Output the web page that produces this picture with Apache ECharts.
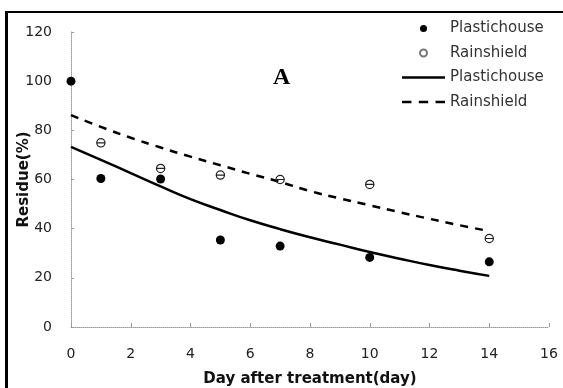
<!DOCTYPE html>
<html>
<head>
<meta charset="utf-8">
<script src="https://cdn.jsdelivr.net/npm/echarts@6/dist/echarts.min.js"></script>
<style>
html,body{margin:0;padding:0;background:#fff;}
#chart{width:563px;height:388px;}
</style>
</head>
<body>
<div id="chart"></div>
<script>
// Observed residues
const obsDays = [0, 1, 3, 5, 7, 10, 14];
const plasticObs = [100, 60.4, 60.2, 35.4, 32.9, 28.3, 26.5];
const rainDays = [1, 3, 5, 7, 10, 14];
const rainObs = [74.9, 64.5, 61.8, 60.0, 58.0, 36.0];
// Fitted curves
const fitDays = [0, 1, 2, 3, 4, 5, 6, 7, 8, 9, 10, 11, 12, 13, 14];
const plasticFit = [73.3, 68.0, 62.6, 57.2, 52.0, 47.6, 43.4, 39.8, 36.5, 33.5, 30.5, 27.8, 25.2, 22.9, 20.8];
const rainFit = [86.2, 81.4, 77.0, 73.0, 69.3, 65.8, 62.3, 59.0, 55.3, 52.3, 49.5, 46.7, 44.0, 41.4, 39.0];
const xTicks = [0, 2, 4, 6, 8, 10, 12, 14, 16];
const yTicks = [0, 20, 40, 60, 80, 100, 120];

const pair = (xs, ys) => xs.map((x, i) => [x, ys[i]]);
const openSym = 'path://M10,0A10,10,0,1,1,10,20A10,10,0,1,1,10,0ZM10,2.6A7.4,7.4,0,1,0,10,17.4A7.4,7.4,0,1,0,10,2.6ZM2,8.7L18,8.7L18,11.3L2,11.3Z';
const solidIcon = 'path://M0,0L43,0L43,2.5L0,2.5Z';
const dashIcon = 'path://M0,0L9,0L9,2.5L0,2.5ZM16,0L25,0L25,2.5L16,2.5ZM32,0L41,0L41,2.5L32,2.5Z';

const chart = echarts.init(document.getElementById('chart'));
const axisFont = 'DejaVu Sans';
chart.setOption({
  animation: false,
  backgroundColor: '#fff',
  grid: {left: 71, right: 14, top: 32, bottom: 61, containLabel: false, outerBoundsMode: 'none'},
  xAxis: {
    type: 'value', min: xTicks[0], max: xTicks[xTicks.length - 1], interval: 2,
    name: 'Day after treatment(day)', nameLocation: 'middle', nameGap: 45, nameMoveOverlap: false,
    nameTextStyle: {fontFamily: axisFont, fontWeight: 'bold', fontSize: 15, color: '#111'},
    axisLine: {lineStyle: {color: '#999', type: 'dotted', width: 1}},
    axisTick: {inside: true, length: 4, lineStyle: {color: '#999'}},
    axisLabel: {margin: 20, fontFamily: axisFont, fontSize: 14, color: '#222'},
    splitLine: {show: false}
  },
  yAxis: {
    type: 'value', min: yTicks[0], max: yTicks[yTicks.length - 1], interval: 20,
    name: 'Residue(%)', nameLocation: 'middle', nameGap: 39, nameMoveOverlap: false,
    nameTextStyle: {fontFamily: axisFont, fontWeight: 'bold', fontSize: 15, color: '#111'},
    axisLine: {show: true, lineStyle: {color: '#999', type: 'dotted', width: 1}},
    axisTick: {show: true, inside: true, length: 3, lineStyle: {color: '#999'}},
    axisLabel: {margin: 19, fontFamily: axisFont, fontSize: 14, color: '#222'},
    splitLine: {show: false}
  },
  legend: {
    orient: 'vertical', left: 402, top: 21, padding: 0, itemWidth: 43, itemHeight: 7, itemGap: 9.5,
    textStyle: {fontFamily: 'DejaVu Sans', fontSize: 15, color: '#333'},
    data: [
      {name: 'Plastichouse', icon: 'circle', itemStyle: {color: '#000', opacity: 1}},
      {name: 'Rainshield', icon: 'emptyCircle', itemStyle: {color: '#777', opacity: 1}},
      {name: 'Plastichouse ', icon: solidIcon},
      {name: 'Rainshield ', icon: dashIcon}
    ]
  },
  graphic: [
    {type: 'rect', shape: {x: 5, y: 11, width: 3, height: 380}, style: {fill: '#000'}},
    {type: 'rect', shape: {x: 5, y: 11, width: 560, height: 2}, style: {fill: '#000'}},
    {type: 'text', left: 273, top: 66, style: {text: 'A', font: 'bold 24px "Liberation Serif"', fill: '#000'}}
  ],
  series: [
    {name: 'Plastichouse', type: 'scatter', data: pair(obsDays, plasticObs), symbol: 'circle', symbolSize: 9, itemStyle: {color: '#000', opacity: 1}, z: 3},
    {name: 'Rainshield', type: 'scatter', data: pair(rainDays, rainObs), symbol: openSym, symbolSize: 9.5, itemStyle: {color: '#222', opacity: 1}, z: 3},
    {name: 'Plastichouse ', type: 'line', data: pair(fitDays, plasticFit), smooth: true, showSymbol: false, symbol: 'none', lineStyle: {color: '#000', width: 2.5}, itemStyle: {color: '#000'}},
    {name: 'Rainshield ', type: 'line', data: pair(fitDays, rainFit), smooth: true, showSymbol: false, symbol: 'none', lineStyle: {color: '#000', width: 2.5, type: [8, 7]}, itemStyle: {color: '#000'}}
  ]
});
</script>
</body>
</html>
